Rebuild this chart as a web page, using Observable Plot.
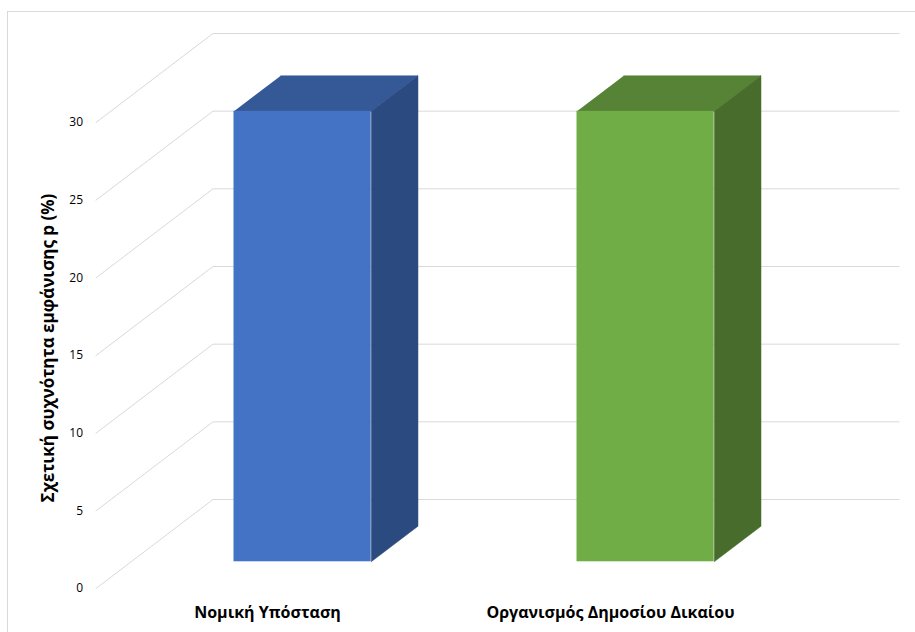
<!DOCTYPE html>
<html>
<head>
<meta charset="utf-8">
<script src="https://cdn.jsdelivr.net/npm/d3@7"></script>
<script src="https://cdn.jsdelivr.net/npm/@observablehq/plot@0.6"></script>
<style>
  html, body { margin: 0; padding: 0; background: #fff; overflow: hidden; }
  #wrap { position: relative; width: 915px; height: 632px; overflow: hidden; }
  #frame { position: absolute; left: 7px; top: 11px; width: 940px; height: 660px; border: 1px solid #D9D9D9; box-sizing: border-box; }
  #chart { position: absolute; left: 0; top: 0; }
</style>
</head>
<body>
<div id="wrap"><div id="frame"></div><div id="chart"></div></div>
<script>
// ---- data ----
const categories = ["Νομική Υπόσταση", "Οργανισμός Δημοσίου Δικαίου"];
const values = [29, 29];
const yTicks = [0, 5, 10, 15, 20, 25, 30];
const yTitle = "Σχετική συχνότητα εμφάνισης p (%)";
const frontColors = ["#4472C4", "#70AD47"];
const topColors = ["#355997", "#568336"];
const sideColors = ["#2B4A80", "#476C2C"];

// ---- 3D projection (depth expressed in data units) ----
const DX = 0.341;   // full depth along x (category units)
const DY = 5.73;    // full depth along y (value units)
const BAR_HALF = 0.2; // half bar width (category units)
const D0 = 0.3, D1 = 0.7; // bar front/back depth
const proj = (x, y, d) => ({x: x + d * DX, y: y + d * DY});

// gridlines: front-plane diagonal then horizontal along back wall
const grid = [];
yTicks.forEach(t => {
  grid.push({t, ...proj(-0.5, t, 0)});
  grid.push({t, ...proj(-0.5, t, 1)});
  grid.push({t, ...proj(categories.length - 0.5, t, 1)});
});

// bar faces
const faces = [];
const fronts = [];
categories.forEach((c, i) => {
  const v = values[i];
  const l = i - BAR_HALF, r = i + BAR_HALF;
  fronts.push({x1: proj(l, 0, D0).x, x2: proj(r, 0, D0).x, y1: proj(l, 0, D0).y, y2: proj(l, v, D0).y, fill: frontColors[i]});
  const topId = "top" + i, sideId = "side" + i;
  [proj(l, v, D0), proj(r, v, D0), proj(r, v, D1), proj(l, v, D1)].forEach(p => faces.push({id: topId, fill: topColors[i], ...p}));
  [proj(r, 0, D0), proj(r, 0, D1), proj(r, v, D1), proj(r, v, D0)].forEach(p => faces.push({id: sideId, fill: sideColors[i], ...p}));
});

const chart = Plot.plot({
  width: 915,
  height: 632,
  marginLeft: 95.5,
  marginRight: 16.5,
  marginTop: 33,
  marginBottom: 44,
  style: {fontFamily: "'Open Sans', sans-serif", background: "transparent", color: "#000"},
  x: {type: "linear", domain: [-0.5, categories.length - 0.5 + DX]},
  y: {domain: [0, 30 + DY]},
  color: {type: "identity"},
  marks: [
    Plot.line(grid, {x: "x", y: "y", z: "t", stroke: "#D9D9D9", strokeWidth: 1}),
    Plot.line(faces, {x: "x", y: "y", z: "id", fill: "fill", stroke: "fill", strokeWidth: 0.5}),
    Plot.rect(fronts, {x1: "x1", x2: "x2", y1: "y1", y2: "y2", fill: "fill"}),
    Plot.axisY({ticks: yTicks, tickSize: 0, tickPadding: 13, fontSize: 12, label: null, tickFormat: d => String(d)}),
    Plot.axisX({ticks: d3.range(categories.length), tickSize: 0, tickPadding: 18, fontSize: 16, fontWeight: "bold", label: null, tickFormat: i => categories[i]}),
    Plot.text([yTitle], {frameAnchor: "left", textAnchor: "middle", dx: -47, dy: 37, rotate: -90, fontSize: 17, fontWeight: "bold", text: d => d})
  ]
});
document.getElementById("chart").appendChild(chart);
</script>
</body>
</html>
